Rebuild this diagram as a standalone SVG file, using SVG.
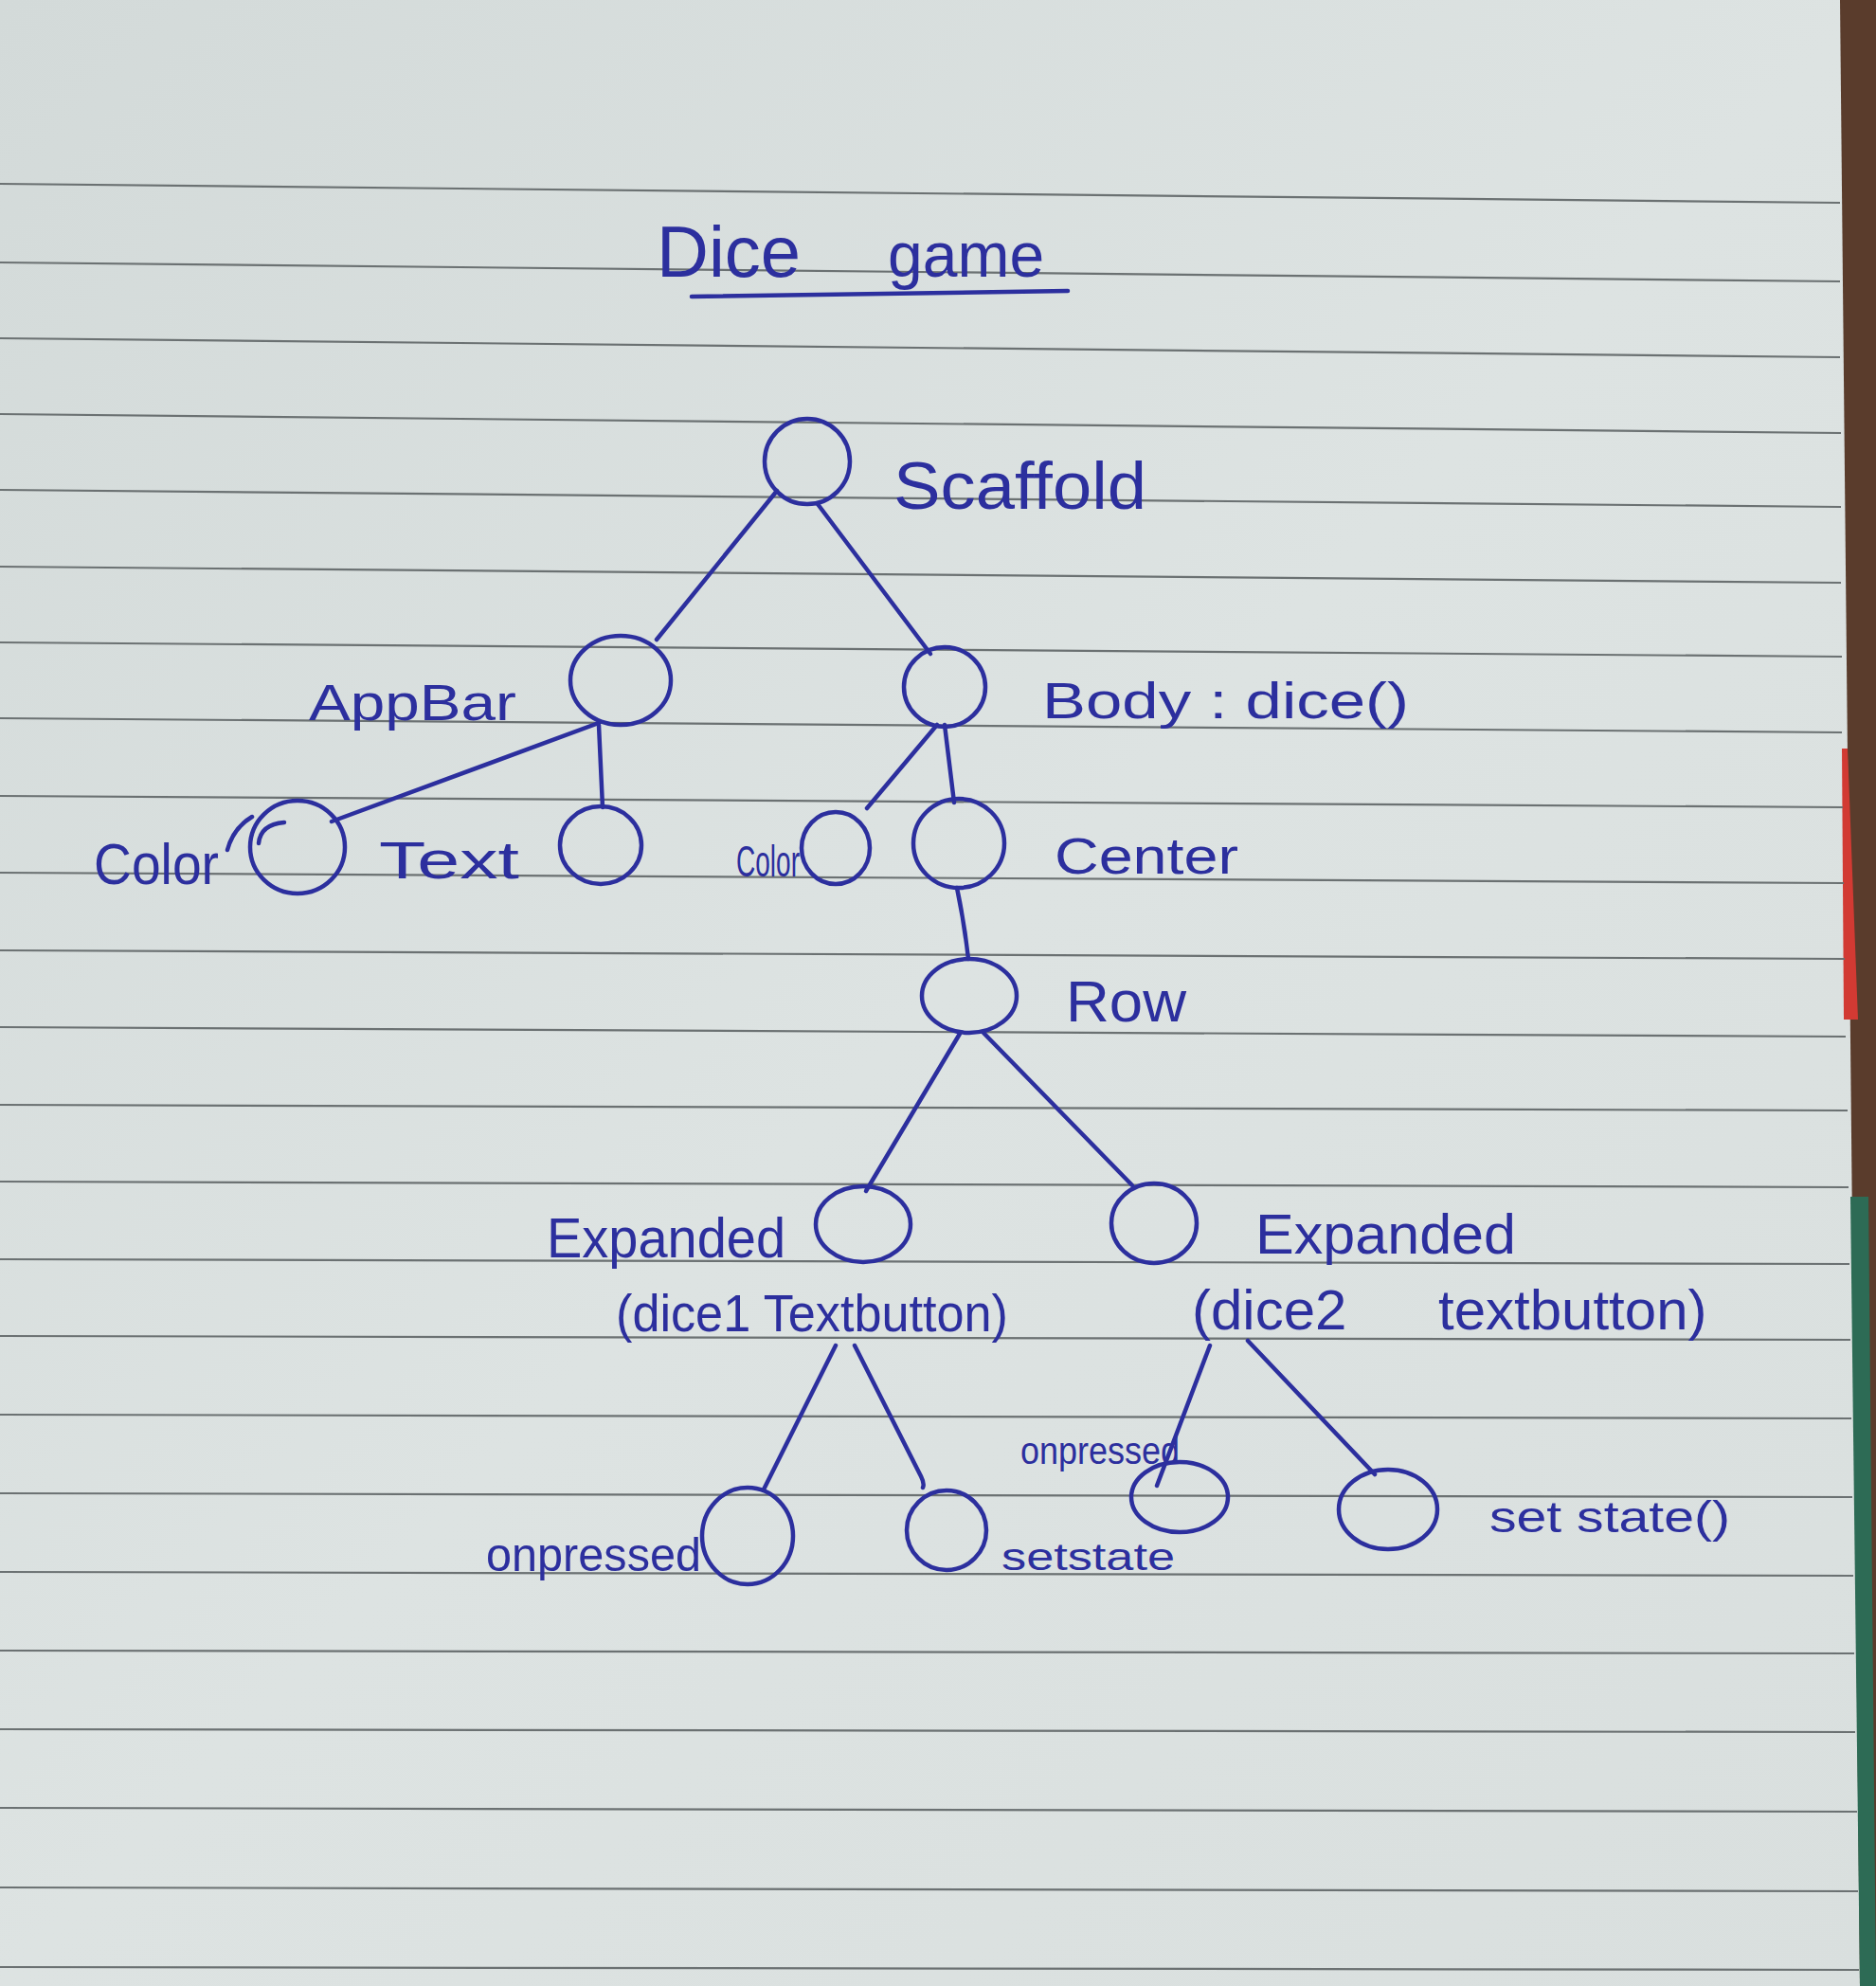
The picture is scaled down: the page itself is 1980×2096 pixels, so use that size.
<svg xmlns="http://www.w3.org/2000/svg" width="1980" height="2096" viewBox="0 0 1980 2096">
<defs>
<linearGradient id="paper" x1="0" y1="0" x2="1" y2="1">
<stop offset="0" stop-color="#d3dad9"/>
<stop offset="0.5" stop-color="#dde3e2"/>
<stop offset="1" stop-color="#d9dfde"/>
</linearGradient>
<style>
.rule{stroke:#6b7172;stroke-width:2.2;fill:none}
.ink{stroke:#2c2f9e;stroke-width:4.5;fill:none;stroke-linecap:round;stroke-linejoin:round}
.node{stroke:#2c2f9e;stroke-width:4.5;fill:none}
.lbl{font-family:"Liberation Sans","DejaVu Sans",sans-serif;fill:#2c2f9e}
</style>
</defs>
<rect x="0" y="0" width="1980" height="2096" fill="url(#paper)"/>
<!-- right edge: notebook cover -->
<polygon points="1942,0 1980,0 1980,2096 1963,2096" fill="#5a3c2c"/>
<polygon points="1944,790 1950,790 1961,1076 1946,1076" fill="#d23a33"/>
<polygon points="1953,1263 1972,1263 1980,2096 1963,2096" fill="#2d6b55"/>
<!-- ruled lines -->
<g id="rules">
<line class="rule" x1="0" y1="194" x2="1942" y2="214"/>
<line class="rule" x1="0" y1="277" x2="1942" y2="297"/>
<line class="rule" x1="0" y1="357" x2="1942" y2="377"/>
<line class="rule" x1="0" y1="437" x2="1943" y2="457"/>
<line class="rule" x1="0" y1="517" x2="1943" y2="535"/>
<line class="rule" x1="0" y1="598" x2="1943" y2="615"/>
<line class="rule" x1="0" y1="678" x2="1944" y2="693"/>
<line class="rule" x1="0" y1="758" x2="1944" y2="773"/>
<line class="rule" x1="0" y1="840" x2="1945" y2="852"/>
<line class="rule" x1="0" y1="921" x2="1946" y2="932"/>
<line class="rule" x1="0" y1="1003" x2="1947" y2="1012"/>
<line class="rule" x1="0" y1="1084" x2="1948" y2="1094"/>
<line class="rule" x1="0" y1="1166" x2="1950" y2="1172"/>
<line class="rule" x1="0" y1="1247" x2="1951" y2="1253"/>
<line class="rule" x1="0" y1="1329" x2="1952" y2="1334"/>
<line class="rule" x1="0" y1="1410" x2="1953" y2="1414"/>
<line class="rule" x1="0" y1="1493" x2="1954" y2="1497"/>
<line class="rule" x1="0" y1="1576" x2="1955" y2="1580"/>
<line class="rule" x1="0" y1="1659" x2="1956" y2="1663"/>
<line class="rule" x1="0" y1="1742" x2="1957" y2="1745"/>
<line class="rule" x1="0" y1="1825" x2="1958" y2="1828"/>
<line class="rule" x1="0" y1="1908" x2="1960" y2="1912"/>
<line class="rule" x1="0" y1="1992" x2="1961" y2="1996"/>
<line class="rule" x1="0" y1="2076" x2="1962" y2="2079"/>
</g>
<!-- title -->
<g id="title">
<text class="lbl" x="693" y="292" font-size="76">Dice <tspan x="937" font-size="66">game</tspan></text>
<path class="ink" d="M730 313 L1127 307"/>
</g>
<!-- connectors -->
<g id="connectors">
<path class="ink" d="M820 518 L693 675"/>
<path class="ink" d="M863 532 L982 690"/>
<path class="ink" d="M632 763 L350 867"/>
<path class="ink" d="M632 765 L636 852"/>
<path class="ink" d="M989 765 L915 853"/>
<path class="ink" d="M997 765 L1007 847"/>
<path class="ink" d="M1010 937 Q1018 975 1022 1012"/>
<path class="ink" d="M1013 1091 L914 1257"/>
<path class="ink" d="M1038 1090 L1195 1251"/>
<path class="ink" d="M882 1420 L806 1572"/>
<path class="ink" d="M902 1420 L972 1558 Q976 1566 974 1570"/>
<path class="ink" d="M1277 1420 L1221 1568"/>
<path class="ink" d="M1317 1415 L1451 1556"/>
</g>
<!-- nodes -->
<g id="scaffold">
<ellipse class="node" cx="852" cy="487" rx="45" ry="45"/>
<text class="lbl" x="943" y="537" font-size="70" textLength="267" lengthAdjust="spacingAndGlyphs">Scaffold</text>
</g>
<g id="appbar">
<ellipse class="node" cx="655" cy="718" rx="53" ry="47"/>
<text class="lbl" x="326" y="760" font-size="54" textLength="219" lengthAdjust="spacingAndGlyphs">AppBar</text>
</g>
<g id="body">
<ellipse class="node" cx="997" cy="725" rx="43" ry="42"/>
<text class="lbl" x="1100" y="758" font-size="54" textLength="387" lengthAdjust="spacingAndGlyphs">Body : dice()</text>
</g>
<g id="appbar-color">
<ellipse class="node" cx="314" cy="894" rx="50" ry="49"/>
<path class="ink" d="M240 897 Q246 874 266 862"/>
<path class="ink" d="M273 890 Q275 870 300 868"/>
<text class="lbl" x="99" y="933" font-size="62" textLength="132" lengthAdjust="spacingAndGlyphs">Color</text>
</g>
<g id="appbar-text">
<ellipse class="node" cx="634" cy="892" rx="43" ry="41"/>
<text class="lbl" x="400" y="927" font-size="56" textLength="148" lengthAdjust="spacingAndGlyphs">Text</text>
</g>
<g id="body-color">
<ellipse class="node" cx="882" cy="895" rx="36" ry="38"/>
<text class="lbl" x="777" y="925" font-size="46" textLength="67" lengthAdjust="spacingAndGlyphs">Color</text>
</g>
<g id="center">
<ellipse class="node" cx="1012" cy="890" rx="48" ry="47"/>
<text class="lbl" x="1113" y="922" font-size="54" textLength="194" lengthAdjust="spacingAndGlyphs">Center</text>
</g>
<g id="row">
<ellipse class="node" cx="1023" cy="1051" rx="50" ry="39"/>
<text class="lbl" x="1125" y="1078" font-size="62" textLength="127" lengthAdjust="spacingAndGlyphs">Row</text>
</g>
<g id="expanded1">
<ellipse class="node" cx="911" cy="1292" rx="50" ry="40"/>
<text class="lbl" x="577" y="1327" font-size="60" textLength="252" lengthAdjust="spacingAndGlyphs">Expanded</text>
<text class="lbl" x="650" y="1405" font-size="56" textLength="414" lengthAdjust="spacingAndGlyphs">(dice1 Textbutton)</text>
</g>
<g id="expanded2">
<ellipse class="node" cx="1218" cy="1291" rx="45" ry="42"/>
<text class="lbl" x="1325" y="1323" font-size="60" textLength="275" lengthAdjust="spacingAndGlyphs">Expanded</text>
<text class="lbl" x="1258" y="1403" font-size="60">(dice2 <tspan x="1518">textbutton)</tspan></text>
</g>
<g id="onpressed1">
<ellipse class="node" cx="789" cy="1621" rx="48" ry="51"/>
<text class="lbl" x="513" y="1658" font-size="50" textLength="227" lengthAdjust="spacingAndGlyphs">onpressed</text>
</g>
<g id="setstate1">
<ellipse class="node" cx="999" cy="1615" rx="42" ry="42"/>
<text class="lbl" x="1057" y="1657" font-size="40" textLength="183" lengthAdjust="spacingAndGlyphs">setstate</text>
</g>
<g id="onpressed2">
<ellipse class="node" cx="1245" cy="1580" rx="51" ry="37"/>
<text class="lbl" x="1077" y="1545" font-size="40" textLength="168" lengthAdjust="spacingAndGlyphs">onpressed</text>
</g>
<g id="setstate2">
<ellipse class="node" cx="1465" cy="1593" rx="52" ry="42"/>
<text class="lbl" x="1572" y="1617" font-size="46" textLength="254" lengthAdjust="spacingAndGlyphs">set state()</text>
</g>
</svg>
